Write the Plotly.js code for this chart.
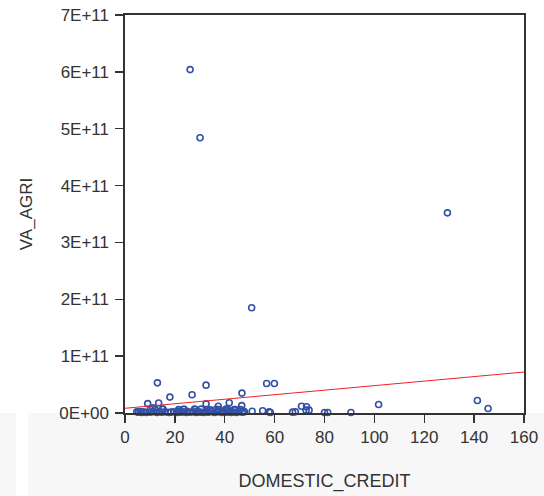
<!DOCTYPE html>
<html>
<head>
<meta charset="utf-8">
<script src="https://cdn.plot.ly/plotly-3.0.1.min.js"></script>
<style>
  html, body { margin: 0; padding: 0; background: #ffffff; }
  #chart { width: 544px; height: 496px; }
</style>
</head>
<body>
<div id="chart"></div>
<script>
// Domestic credit (% of GDP) per country
const domesticCredit = [
  26.1, 30.1, 129.3, 50.8,
  13.0, 32.5, 56.8, 59.9, 46.9, 26.9, 18.0,
  9.1, 13.5, 32.5, 41.8, 46.8, 37.4, 11.1,
  15.2, 23.7, 27.9, 40.5, 43.8, 47.4, 51.0, 55.2,
  58.3, 57.8, 67.2, 68.3, 70.8, 72.8, 73.8, 72.6, 80.0, 81.3, 90.6,
  101.7, 141.3, 145.6,
  4.7, 5.4, 6.1, 6.7, 7.4, 8.5, 10.1, 11.4, 12.8, 13.8, 14.8, 16.1,
  17.5, 18.4, 19.5, 20.8, 21.5, 22.4, 23.5, 24.6, 25.1, 26.2, 27.5,
  28.6, 29.1, 30.2, 31.5, 32.6, 33.5, 34.9, 35.8, 36.6, 37.6, 38.9,
  39.6, 40.7, 41.6, 42.6, 43.6, 44.7, 45.6, 47.0, 47.9,
  10.1, 12.1, 15.2, 21.5, 23.5, 28.2, 30.5, 32.9, 34.2, 36.6, 37.6,
  40.3, 41.2, 44.3, 46.3
];

// Value added in agriculture (current US$)
const vaAgri = [
  6.04e11, 4.84e11, 3.52e11, 1.85e11,
  5.3e10, 4.9e10, 5.2e10, 5.2e10, 3.5e10, 3.2e10, 2.8e10,
  1.65e10, 1.75e10, 1.6e10, 1.8e10, 1.3e10, 1.2e10, 9.0e9,
  6.5e9, 6.5e9, 7.0e9, 7.0e9, 6.0e9, 3.5e9, 3.0e9, 4.0e9,
  1.0e9, 2.0e9, 1.5e9, 2.0e9, 1.2e10, 1.1e10, 5.0e9, 5.0e9, 1.0e9, 1.0e9, 1.0e9,
  1.5e10, 2.2e10, 8.0e9,
  2.0e9, 1.5e9, 2.5e9, 1.0e9, 2.0e9, 0.8e9, 1.5e9, 2.2e9, 1.0e9, 2.5e9, 1.2e9, 2.0e9,
  0.8e9, 1.5e9, 2.3e9, 1.0e9, 2.8e9, 1.5e9, 2.0e9, 0.9e9, 2.5e9, 1.3e9, 2.0e9,
  1.0e9, 2.4e9, 1.5e9, 0.8e9, 2.0e9, 1.2e9, 2.6e9, 1.0e9, 1.8e9, 2.2e9, 0.9e9,
  2.0e9, 1.4e9, 2.5e9, 1.0e9, 1.8e9, 0.8e9, 2.2e9, 1.2e9, 2.0e9,
  6.5e9, 6.0e9, 6.8e9, 6.0e9, 6.5e9, 6.2e9, 6.8e9, 6.0e9, 5.5e9, 6.5e9, 6.0e9,
  5.8e9, 6.5e9, 6.2e9, 6.0e9
];

// Least-squares fit line end points
const fitX = [0, 160];
const fitY = [8.3e9, 7.2e10];

// Axis ticks
const xTickVals = [0, 20, 40, 60, 80, 100, 120, 140, 160];
const yTickVals = [0, 1e11, 2e11, 3e11, 4e11, 5e11, 6e11, 7e11];
const yTickText = ['0E+00', '1E+11', '2E+11', '3E+11', '4E+11', '5E+11', '6E+11', '7E+11'];

const FONT = '"Liberation Sans", Arial, sans-serif';
const INK = '#333333';

const traces = [
  {
    type: 'scatter',
    mode: 'markers',
    x: domesticCredit,
    y: vaAgri,
    marker: {
      symbol: 'circle-open',
      size: 6,
      color: '#3350a8',
      line: { width: 1.6, color: '#3350a8' }
    },
    cliponaxis: false,
    hoverinfo: 'x+y'
  },
  {
    type: 'scatter',
    mode: 'lines',
    x: fitX,
    y: fitY,
    line: { color: '#ec2228', width: 1 },
    hoverinfo: 'skip'
  }
];

// faint grey page band under the plot frame
const bandShapes = [
  { type: 'rect', xref: 'paper', yref: 'paper', x0: -0.32, x1: -0.2732, y0: -0.22, y1: 0.0, layer: 'below', line: { width: 0 }, fillcolor: '#f7f7f7' },
  { type: 'rect', xref: 'paper', yref: 'paper', x0: -0.2432, x1: 1.06, y0: -0.22, y1: 0.0, layer: 'below', line: { width: 0 }, fillcolor: '#f7f7f7' }
];

const layout = {
  width: 544,
  height: 496,
  margin: { l: 125, r: 20, t: 15, b: 83 },
  paper_bgcolor: '#ffffff',
  plot_bgcolor: 'rgba(0,0,0,0)',
  showlegend: false,
  font: { family: FONT, color: INK, size: 17 },
  shapes: bandShapes,
  xaxis: {
    range: [0, 160],
    tickvals: xTickVals,
    ticks: 'outside',
    ticklen: 8,
    tickwidth: 1.3,
    tickcolor: INK,
    showline: true,
    linecolor: INK,
    linewidth: 1.6,
    mirror: true,
    showgrid: false,
    zeroline: false,
    tickfont: { family: FONT, size: 17, color: INK },
    title: { text: 'DOMESTIC_CREDIT', font: { family: FONT, size: 18, color: INK }, standoff: 28 }
  },
  yaxis: {
    range: [0, 7e11],
    tickvals: yTickVals,
    ticktext: yTickText,
    ticks: 'outside',
    ticklen: 8,
    tickwidth: 1.3,
    tickcolor: INK,
    ticklabelstandoff: 3,
    showline: true,
    linecolor: INK,
    linewidth: 1.6,
    mirror: true,
    showgrid: false,
    zeroline: false,
    tickfont: { family: FONT, size: 17, color: INK },
    title: { text: 'VA_AGRI', font: { family: FONT, size: 17, color: INK }, standoff: 22 }
  }
};

Plotly.newPlot('chart', traces, layout, { displayModeBar: false, staticPlot: true });
</script>
</body>
</html>
